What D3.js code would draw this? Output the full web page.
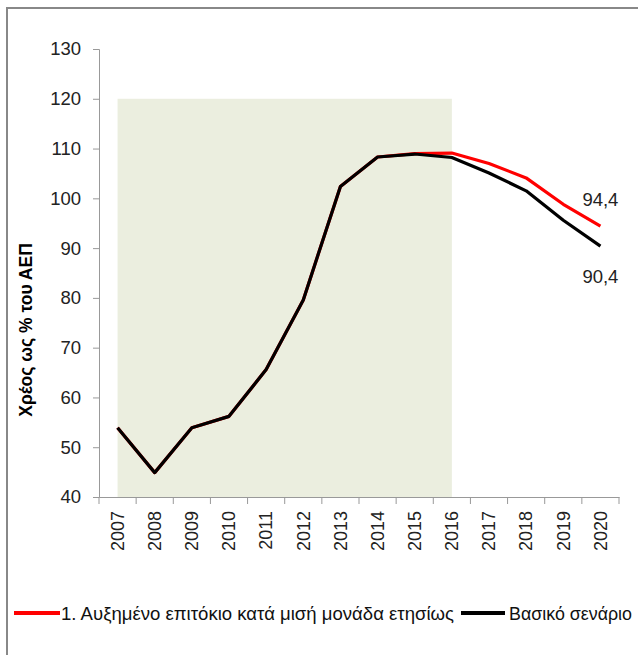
<!DOCTYPE html>
<html><head><meta charset="utf-8">
<script src="https://cdn.jsdelivr.net/npm/d3@7"></script>
<style>body{margin:0;background:#fff}svg{display:block;font-family:"Liberation Sans",Arial,sans-serif}</style>
</head><body><svg id="c" width="638" height="655"></svg>
<script>
const years = ["2007","2008","2009","2010","2011","2012","2013","2014","2015","2016","2017","2018","2019","2020"];
const baseline = [53.9,44.9,53.9,56.2,65.6,79.6,102.4,108.3,108.9,108.2,105.1,101.5,95.6,90.4];
const raisedRate = [53.9,44.9,53.9,56.2,65.6,79.6,102.4,108.3,109.0,109.1,107.0,104.1,98.8,94.4];
const yTicks = [40,50,60,70,80,90,100,110,120,130];
const shadeRange = {from:"2007", to:"2016", low:40, high:120};
const seriesNames = ["1. Αυξημένο επιτόκιο κατά μισή μονάδα ετησίως","Βασικό σενάριο"];
const yTitle = "Χρέος ως % του ΑΕΠ";

const svg = d3.select("#c");
// frame
svg.append("line").attr("x1",7).attr("x2",7).attr("y1",7).attr("y2",655).attr("stroke","#888").attr("stroke-width",2);
svg.append("line").attr("x1",6).attr("x2",638).attr("y1",8).attr("y2",8).attr("stroke","#888").attr("stroke-width",2);

const x = d3.scaleBand().domain(years).range([99,619]).padding(0);
const y = d3.scaleLinear().domain([40,130]).range([497,49]);
const cx = d => x(d)+x.bandwidth()/2;

svg.append("rect").attr("x",cx(shadeRange.from)).attr("width",cx(shadeRange.to)-cx(shadeRange.from))
  .attr("y",y(shadeRange.high)).attr("height",y(shadeRange.low)-y(shadeRange.high)).attr("fill","#ebeedf");

const yAx = svg.append("g").attr("transform","translate(99,0)")
  .call(d3.axisLeft(y).tickValues(yTicks).tickSize(6).tickPadding(12));
yAx.selectAll("path,line").attr("stroke","#999");
yAx.selectAll("text").attr("font-size",18.5).attr("fill","#222").attr("font-family","Liberation Sans, Arial");

const xAx = svg.append("g").attr("transform","translate(0,497)")
  .call(d3.axisBottom(x).tickSize(0).tickPadding(0));
xAx.select("path").attr("stroke","#999");
xAx.selectAll(".tick line").remove();
xAx.selectAll("g.bt").data(years.concat(["_end"])).enter().append("line")
  .attr("x1",(d,i)=>99+i*x.bandwidth()).attr("x2",(d,i)=>99+i*x.bandwidth())
  .attr("y1",0).attr("y2",7).attr("stroke","#999");
xAx.selectAll(".tick text").attr("font-size",18).attr("fill","#222").attr("font-family","Liberation Sans, Arial")
  .attr("transform","rotate(-90)").attr("text-anchor","end").attr("x",-14).attr("y",0).attr("dy","0.35em");

const line = d3.line().x((d,i)=>cx(years[i])).y(d=>y(d));
svg.append("path").datum(raisedRate).attr("d",line).attr("fill","none").attr("stroke","#ff0000").attr("stroke-width",3.2).attr("stroke-linejoin","round");
svg.append("path").datum(baseline).attr("d",line).attr("fill","none").attr("stroke","#000").attr("stroke-width",3.2).attr("stroke-linejoin","round");

const fmt = v => String(v).replace(".",",");
svg.append("text").attr("x",cx("2020")).attr("y",y(raisedRate[13])-20).attr("text-anchor","middle")
  .attr("font-size",18.5).attr("fill","#222").text(fmt(raisedRate[13]));
svg.append("text").attr("x",cx("2020")).attr("y",y(baseline[13])+37).attr("text-anchor","middle")
  .attr("font-size",18.5).attr("fill","#222").text(fmt(baseline[13]));

svg.append("text").attr("transform","translate(32,330) rotate(-90)").attr("text-anchor","middle")
  .attr("font-size",17.5).attr("font-weight","bold").attr("fill","#000").text(yTitle);

// legend
const lg = svg.append("g");
lg.append("line").attr("x1",14).attr("x2",60).attr("y1",613).attr("y2",613).attr("stroke","#ff0000").attr("stroke-width",4);
lg.append("text").attr("x",61).attr("y",620).attr("font-size",19).attr("fill","#111").text(seriesNames[0])
  .attr("textLength",393).attr("lengthAdjust","spacingAndGlyphs");
lg.append("line").attr("x1",461).attr("x2",505).attr("y1",613).attr("y2",613).attr("stroke","#000").attr("stroke-width",4);
lg.append("text").attr("x",509).attr("y",620).attr("font-size",18).attr("fill","#111").text(seriesNames[1])
  .attr("textLength",123).attr("lengthAdjust","spacingAndGlyphs");
</script></body></html>
